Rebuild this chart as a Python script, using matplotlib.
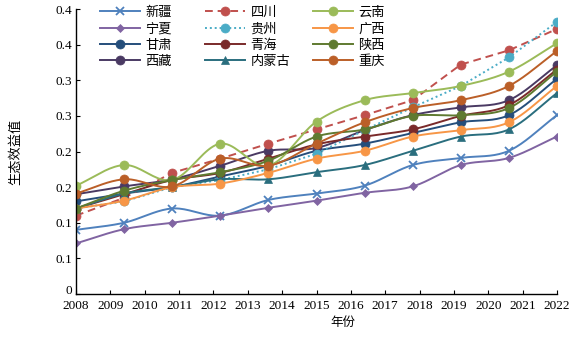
import numpy as np
import matplotlib
matplotlib.use("Agg")
import matplotlib.pyplot as plt
from matplotlib.lines import Line2D
from matplotlib.transforms import ScaledTranslation

plt.rcParams['font.family'] = ['Noto Sans CJK SC', 'DejaVu Sans']

# ---- data ----
x_pos = [2008, 2009.4, 2010.8, 2012.2, 2013.6, 2015, 2016.4, 2017.8, 2019.2, 2020.6, 2022]
xinjiang = [0.090, 0.100, 0.120, 0.110, 0.132, 0.141, 0.152, 0.181, 0.191, 0.201, 0.251]
ningxia = [0.071, 0.091, 0.100, 0.110, 0.121, 0.131, 0.142, 0.151, 0.181, 0.191, 0.221]
gansu = [0.130, 0.141, 0.150, 0.165, 0.180, 0.201, 0.211, 0.226, 0.241, 0.251, 0.302]
xizang = [0.140, 0.151, 0.161, 0.180, 0.201, 0.205, 0.230, 0.251, 0.262, 0.272, 0.321]
sichuan = [0.110, 0.135, 0.170, 0.190, 0.211, 0.231, 0.251, 0.272, 0.322, 0.342, 0.372]
guizhou = [0.120, 0.130, 0.150, 0.160, 0.175, 0.197, 0.230, 0.262, 0.292, 0.332, 0.382]
qinghai = [0.120, 0.140, 0.160, 0.170, 0.190, 0.210, 0.221, 0.231, 0.250, 0.265, 0.315]
neimenggu = [0.120, 0.141, 0.150, 0.161, 0.161, 0.171, 0.181, 0.201, 0.221, 0.231, 0.282]
yunnan = [0.152, 0.181, 0.160, 0.211, 0.180, 0.242, 0.272, 0.282, 0.292, 0.312, 0.352]
guangxi = [0.120, 0.131, 0.150, 0.155, 0.170, 0.190, 0.201, 0.221, 0.230, 0.241, 0.292]
shaanxi = [0.120, 0.145, 0.160, 0.171, 0.187, 0.221, 0.231, 0.250, 0.251, 0.261, 0.312]
chongqing = [0.141, 0.161, 0.151, 0.190, 0.180, 0.211, 0.241, 0.261, 0.272, 0.292, 0.341]

names = ['新疆', '宁夏', '甘肃', '西藏', '四川', '贵州', '青海', '内蒙古', '云南', '广西', '陕西', '重庆']
series = [xinjiang, ningxia, gansu, xizang, sichuan, guizhou, qinghai, neimenggu,
          yunnan, guangxi, shaanxi, chongqing]

x_ticks = list(range(2008, 2023))
y_ticks = [0, 0.05, 0.1, 0.15, 0.2, 0.25, 0.3, 0.35, 0.4]
y_ticklabels = ['0', '0.1', '0.1', '0.2', '0.2', '0.3', '0.3', '0.4', '0.4']

# ---- styles ----
colors = ['#4F81BD', '#8064A2', '#254E7B', '#4A3A63', '#C0504D', '#4BACC6',
          '#7A2A2A', '#2A6E7E', '#9BBB59', '#F79646', '#5F7A30', '#BB5F28']
markers = ['x', 'D', 'o', 'o', 'o', 'o', 'o', '^', 'o', 'o', 'o', 'o']
msizes = [6, 4.5, 6.5, 6.5, 6.5, 6.5, 6.5, 6, 6.5, 6.5, 6.5, 6.5]
lstyles = ['-', '-', '-', '-', (0, (4, 2.5)), (0, (1, 1.5)), '-', '-', '-', '-', '-', '-']


def smooth(xs, ys, n=20):
    # Catmull-Rom style curve through the data points (rendering only)
    xs = np.asarray(xs, float)
    ys = np.asarray(ys, float)
    px = np.concatenate([[2 * xs[0] - xs[1]], xs, [2 * xs[-1] - xs[-2]]])
    py = np.concatenate([[2 * ys[0] - ys[1]], ys, [2 * ys[-1] - ys[-2]]])
    ox, oy = [], []
    t = np.linspace(0, 1, n, endpoint=False)
    for i in range(1, len(px) - 2):
        for arr, out in ((px, ox), (py, oy)):
            p0, p1, p2, p3 = arr[i - 1], arr[i], arr[i + 1], arr[i + 2]
            out.extend(0.5 * ((2 * p1) + (-p0 + p2) * t +
                              (2 * p0 - 5 * p1 + 4 * p2 - p3) * t ** 2 +
                              (-p0 + 3 * p1 - 3 * p2 + p3) * t ** 3))
    ox.append(xs[-1])
    oy.append(ys[-1])
    return ox, oy


W, H = 581, 344
fig = plt.figure(figsize=(W / 100, H / 100), dpi=100)
ax = fig.add_axes([76 / W, 50 / H, 481 / W, 285 / H])

handles = []
for name, ys, c, m, ms, ls in zip(names, series, colors, markers, msizes, lstyles):
    straight = not isinstance(ls, str)
    if straight:
        ax.plot(x_pos, ys, color=c, lw=1.4, ls=ls)
    else:
        sx, sy = smooth(x_pos, ys)
        ax.plot(sx, sy, color=c, lw=1.4, ls=ls)
    mew = 1.3 if m == 'x' else 0.5
    ax.plot(x_pos, ys, ls='none', marker=m, ms=ms, color=c, mec=c, mew=mew)
    handles.append(Line2D([], [], color=c, lw=1.4, ls=ls, marker=m, ms=ms, mec=c, mew=mew))

ax.set_xlim(2008, 2022)
ax.set_ylim(0, 0.4)
ax.set_xticks(x_ticks)
ax.set_xticklabels([str(v) for v in x_ticks], family='Liberation Serif', fontsize=9.5)
ax.set_yticks(y_ticks)
ax.set_yticklabels(y_ticklabels, family='Liberation Serif', fontsize=9.5)
ax.tick_params(direction='in', length=3, width=0.8, colors='black')
ax.tick_params(axis='x', pad=4)
ax.tick_params(axis='y', pad=3)
for s in ['top', 'right']:
    ax.spines[s].set_visible(False)
for s in ['left', 'bottom']:
    ax.spines[s].set_linewidth(1.0)
    ax.spines[s].set_color('black')

# lift the "0" label a little so it clears the first year label
zero_lab = ax.get_yticklabels()[0]
zero_lab.set_transform(zero_lab.get_transform() + ScaledTranslation(0, 3 / 72, fig.dpi_scale_trans))

ax.set_xlabel('年份', fontsize=9)
ax.xaxis.set_label_coords((343 - 76) / 481, (294 - 316) / 285)
ax.set_ylabel('生态效益值', fontsize=9.5)
ax.yaxis.set_label_coords((22 - 76) / 481, 0.5)

# three legend columns of equal pitch
col_left = [100, 205, 313]
for k in range(3):
    fig.legend(handles[4 * k:4 * k + 4], names[4 * k:4 * k + 4], loc='upper left',
               bbox_to_anchor=(col_left[k] / W, 1 - 6 / H), frameon=False,
               fontsize=9.5, handlelength=3.0, labelspacing=0.25,
               handletextpad=0.45, borderpad=0, borderaxespad=0)

fig.savefig('out.png', dpi=100)
